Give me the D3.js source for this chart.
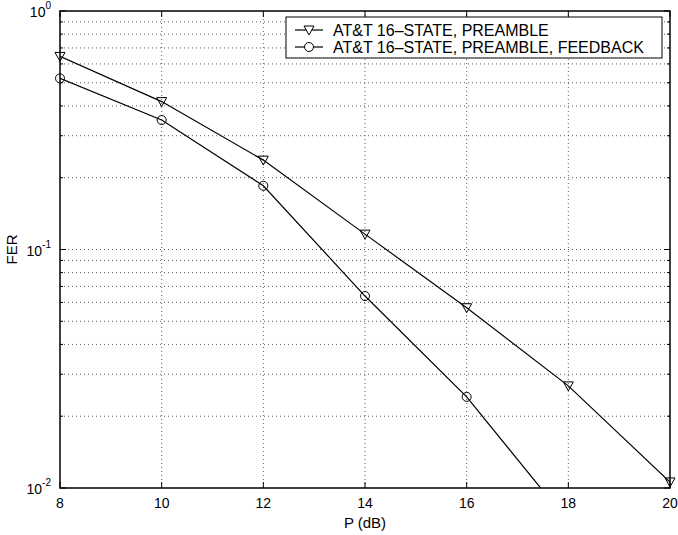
<!DOCTYPE html>
<html>
<head>
<meta charset="utf-8">
<script src="https://cdn.jsdelivr.net/npm/d3@7"></script>
<style>
  body { margin: 0; background: #fff; }
  text { font-family: "Liberation Sans", Arial, sans-serif; fill: #000; }
</style>
</head>
<body>
<div class="ferChart"></div>
<script>
const snr = [8, 10, 12, 14, 16, 18, 20];
const ferPreamble = [0.645, 0.417, 0.237, 0.116, 0.057, 0.0268, 0.0106];
const snrFeedback = [8, 10, 12, 14, 16, 18];
const ferFeedback = [0.522, 0.349, 0.185, 0.0638, 0.0241, 0.0072];
const seriesNames = ["AT&T 16\u2013STATE, PREAMBLE", "AT&T 16\u2013STATE, PREAMBLE, FEEDBACK"];
const xTicks = [8, 10, 12, 14, 16, 18, 20];
const yMajor = [1, 0.1, 0.01];
const yExp = ["0", "-1", "-2"];

function ferChart() {
  const width = 678;
  const height = 535;
  const margin = { top: 11, right: 8, bottom: 47, left: 60 };
  const w = width - margin.left - margin.right;
  const h = height - margin.top - margin.bottom;

  const x = d3.scaleLinear().domain([8, 20]).range([0, w]);
  const y = d3.scaleLog().domain([0.01, 1]).range([h, 0]);

  const yMinor = [];
  [0.01, 0.1].forEach(function(d) {
    for (let k = 2; k <= 9; k++) yMinor.push(d * k);
  });

  const svg = d3.select(".ferChart").append("svg")
    .attr("width", width)
    .attr("height", height);

  svg.append("defs").append("clipPath").attr("id", "plotClip")
    .append("rect").attr("width", w).attr("height", h);

  const g = svg.append("g")
    .attr("transform", "translate(" + margin.left + "," + margin.top + ")");

  // grid
  g.selectAll(".vgrid")
    .data(xTicks.slice(1, -1))
    .enter().append("line")
    .attr("x1", d => x(d)).attr("x2", d => x(d))
    .attr("y1", 0).attr("y2", h)
    .attr("stroke", "#333").attr("stroke-width", 0.8)
    .attr("stroke-dasharray", "1,3");

  g.selectAll(".hgrid")
    .data(yMinor.concat([0.1]))
    .enter().append("line")
    .attr("x1", 0).attr("x2", w)
    .attr("y1", d => y(d)).attr("y2", d => y(d))
    .attr("stroke", "#333").attr("stroke-width", 0.8)
    .attr("stroke-dasharray", "1,3");

  // ticks on all four sides
  const tickG = g.append("g").attr("stroke", "#000").attr("stroke-width", 1);
  xTicks.forEach(function(d) {
    tickG.append("line").attr("x1", x(d)).attr("x2", x(d)).attr("y1", h).attr("y2", h - 6);
    tickG.append("line").attr("x1", x(d)).attr("x2", x(d)).attr("y1", 0).attr("y2", 6);
  });
  yMajor.forEach(function(d) {
    tickG.append("line").attr("x1", 0).attr("x2", 6).attr("y1", y(d)).attr("y2", y(d));
    tickG.append("line").attr("x1", w).attr("x2", w - 6).attr("y1", y(d)).attr("y2", y(d));
  });
  yMinor.forEach(function(d) {
    tickG.append("line").attr("x1", 0).attr("x2", 3).attr("y1", y(d)).attr("y2", y(d));
    tickG.append("line").attr("x1", w).attr("x2", w - 3).attr("y1", y(d)).attr("y2", y(d));
  });

  // frame
  g.append("rect")
    .attr("width", w).attr("height", h)
    .attr("fill", "none").attr("stroke", "#000").attr("stroke-width", 1.5);

  // series
  const line = d3.line().x(d => x(d[0])).y(d => y(d[1]));
  const data1 = d3.zip(snr, ferPreamble);
  const data2 = d3.zip(snrFeedback, ferFeedback);

  const plot = g.append("g").attr("clip-path", "url(#plotClip)");
  plot.append("path").datum(data1).attr("d", line)
    .attr("fill", "none").attr("stroke", "#000").attr("stroke-width", 1.2);
  plot.append("path").datum(data2).attr("d", line)
    .attr("fill", "none").attr("stroke", "#000").attr("stroke-width", 1.2);

  const tri = "M-5,-4L5,-4L0,5Z";
  g.selectAll(".tri").data(data1).enter().append("path")
    .attr("d", tri)
    .attr("transform", d => "translate(" + x(d[0]) + "," + y(d[1]) + ")")
    .attr("fill", "none").attr("stroke", "#000").attr("stroke-width", 1);

  g.selectAll(".circ").data(data2.filter(d => d[1] >= 0.01)).enter().append("circle")
    .attr("cx", d => x(d[0])).attr("cy", d => y(d[1])).attr("r", 4.5)
    .attr("fill", "none").attr("stroke", "#000").attr("stroke-width", 1);

  // x tick labels
  g.selectAll(".xlab").data(xTicks).enter().append("text")
    .attr("x", d => x(d)).attr("y", h + 20)
    .style("text-anchor", "middle").style("font-size", "14px")
    .text(d => d);

  // y tick labels
  yMajor.forEach(function(d, i) {
    const t = g.append("text")
      .attr("x", -9).attr("y", y(d) + 6)
      .style("text-anchor", "end").style("font-size", "14px");
    t.append("tspan").text("10");
    t.append("tspan").attr("dy", -8).style("font-size", "10px").text(yExp[i]);
  });

  // axis titles
  svg.append("text")
    .attr("x", margin.left + w / 2).attr("y", 528)
    .style("text-anchor", "middle").style("font-size", "15px")
    .text("P (dB)");

  svg.append("text")
    .attr("transform", "translate(17," + (margin.top + y(0.1)) + ") rotate(-90)")
    .style("text-anchor", "middle").style("font-size", "15px")
    .text("FER");

  // legend
  const legend = svg.append("g");
  legend.append("rect")
    .attr("x", 286).attr("y", 17).attr("width", 376).attr("height", 41)
    .attr("fill", "#fff").attr("stroke", "#000").attr("stroke-width", 1);

  [0, 1].forEach(function(i) {
    const ly = 30 + i * 17;
    legend.append("line")
      .attr("x1", 295).attr("x2", 323).attr("y1", ly).attr("y2", ly)
      .attr("stroke", "#000").attr("stroke-width", 1.2);
    if (i === 0) {
      legend.append("path").attr("d", tri)
        .attr("transform", "translate(309," + ly + ")")
        .attr("fill", "#fff").attr("stroke", "#000");
    } else {
      legend.append("circle").attr("cx", 309).attr("cy", ly).attr("r", 4.5)
        .attr("fill", "#fff").attr("stroke", "#000");
    }
    legend.append("text")
      .attr("x", 333).attr("y", ly + 5.5)
      .style("font-size", "16px")
      .text(seriesNames[i]);
  });
}

ferChart();
</script>
</body>
</html>
